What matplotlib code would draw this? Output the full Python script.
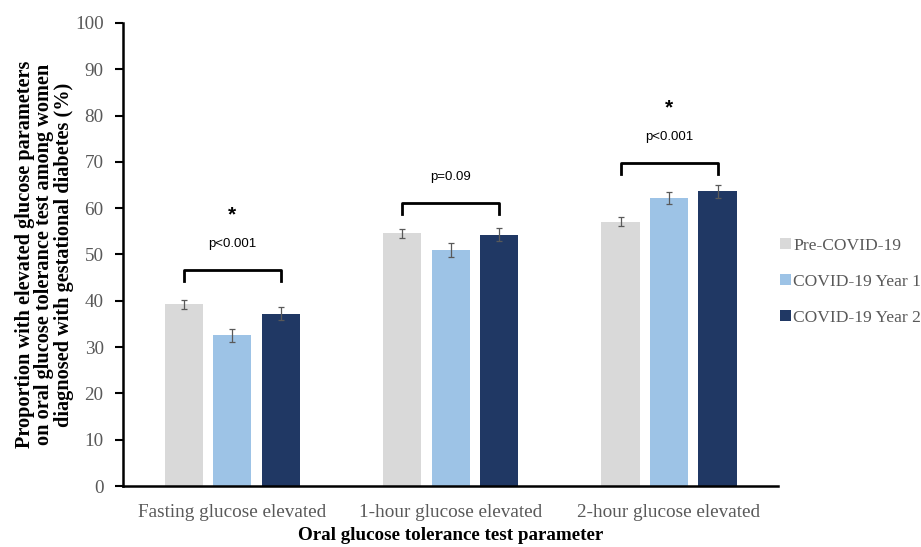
import matplotlib
matplotlib.use('Agg')
import matplotlib.pyplot as plt
import numpy as np

# data
categories = ['Fasting glucose elevated', '1-hour glucose elevated', '2-hour glucose elevated']
series = ['Pre-COVID-19', 'COVID-19 Year 1', 'COVID-19 Year 2']
colors = ['#d9d9d9', '#9dc3e6', '#203864']
pre_covid = [39.2, 54.6, 57.1]
year1 = [32.6, 50.9, 62.2]
year2 = [37.2, 54.3, 63.7]
err_pre = [1.0, 1.0, 1.0]
err_y1 = [1.4, 1.5, 1.4]
err_y2 = [1.4, 1.4, 1.4]
p_labels = ['p<0.001', 'p=0.09', 'p<0.001']
significant = [True, False, True]
bracket_top = [46.6, 61.2, 69.7]

values = [pre_covid, year1, year2]
errors = [err_pre, err_y1, err_y2]

serif = ['Liberation Serif', 'DejaVu Serif']
sans = ['Liberation Sans', 'DejaVu Sans']

fig = plt.figure(figsize=(9.21, 5.47), dpi=100)
ax = fig.add_axes([0.1336, 0.1115, 0.7114, 0.8465])

x = np.arange(len(categories))
offset = 0.222
width = 0.175
for i in range(3):
    ax.bar(x + (i - 1) * offset, values[i], width, color=colors[i], label=series[i],
           yerr=errors[i], error_kw=dict(ecolor='#595959', elinewidth=0.9, capsize=2.5, capthick=0.9))

# significance brackets
for j in range(3):
    xl = x[j] - offset
    xr = x[j] + offset
    top = bracket_top[j]
    ax.plot([xl, xl, xr, xr], [top - 2.4, top, top, top - 2.4], color='black', lw=2)
    ax.text(x[j], top + 4.3, p_labels[j], ha='center', va='bottom', fontsize=9.5, family=sans)
    if significant[j]:
        ax.text(x[j], top + 10.0, '*', ha='center', va='bottom', fontsize=15,
                fontweight='bold', family=sans)

ax.set_xlim(-0.5, 2.5)
ax.set_ylim(0, 100)
ax.set_yticks(range(0, 101, 10))
ax.set_xticks(x)
ax.set_xticklabels(categories, family=serif, fontsize=13.8, color='#595959')
for lbl in ax.get_yticklabels():
    lbl.set_family(serif)
    lbl.set_fontsize(13.8)
    lbl.set_color('#595959')
ax.tick_params(axis='x', length=0, pad=13)
ax.tick_params(axis='y', length=6, width=1.5, direction='out', pad=8)

ax.spines['top'].set_visible(False)
ax.spines['right'].set_visible(False)
ax.spines['left'].set_linewidth(1.8)
ax.spines['bottom'].set_linewidth(1.8)

ax.set_ylabel('Proportion with elevated glucose parameters\non oral glucose tolerance test among women\ndiagnosed with gestational diabetes (%)',
              family=serif, fontsize=14.6, fontweight='bold', labelpad=1, linespacing=0.95)
ax.set_xlabel('Oral glucose tolerance test parameter', family=serif, fontsize=13.7,
              fontweight='bold', labelpad=4)

leg = fig.legend(loc='center left', bbox_to_anchor=(0.847, 0.485), frameon=False,
                 prop={'family': serif, 'size': 12.6}, handlelength=0.6, handleheight=0.6,
                 handletextpad=0.15, labelspacing=1.15, borderaxespad=0, borderpad=0)
for t in leg.get_texts():
    t.set_color('#595959')

fig.savefig('out.png', dpi=100)
